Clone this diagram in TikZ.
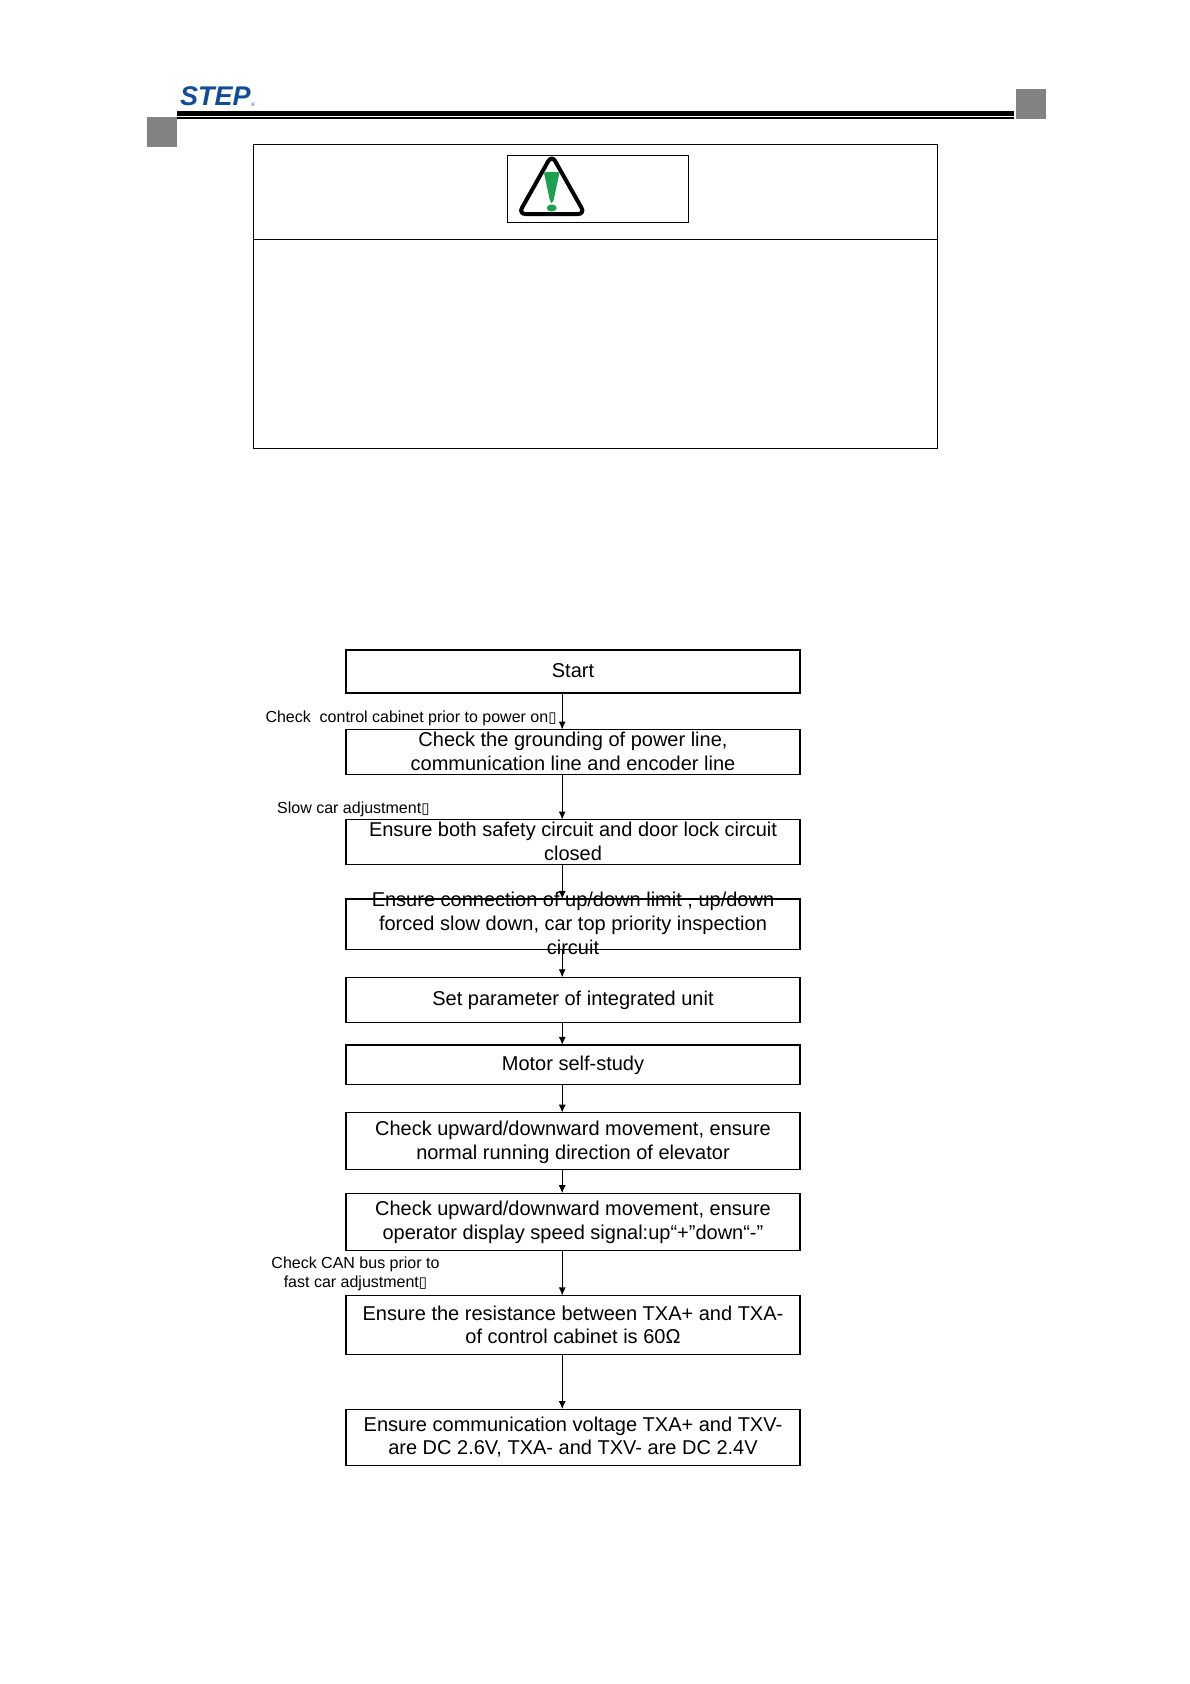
\documentclass[tikz,border=0pt]{standalone}
\usepackage{fontspec}
\setmainfont{Liberation Sans}
\newfontfamily\symbolfont{DejaVu Sans}
\usepackage{xcolor}
\usetikzlibrary{arrows.meta, positioning, shapes.geometric}
\definecolor{logoblue}{HTML}{0F4C9A}
\definecolor{tabgray}{HTML}{828282}
\definecolor{signgreen}{HTML}{1FA04E}
\newcommand{\tofu}{{\symbolfont\fontsize{15}{15}\selectfont\char"25AF}}

\begin{document}
\begin{tikzpicture}[
        x=1pt, y=-1pt,
        panel/.style={rectangle, draw, line width=1pt, inner sep=0pt, outer sep=0pt, minimum width=684.6pt},
        flowbox/.style={rectangle, draw, line width=1.2pt, inner sep=0pt, outer sep=0pt, minimum width=454pt},
        flowtext/.style={align=center, inner sep=0pt, font=\fontsize{20}{23.8}\selectfont},
        steplabel/.style={align=center, inner sep=0pt, font=\fontsize{16}{18.4}\selectfont},
        tabmark/.style={rectangle, fill=tabgray, inner sep=0pt, minimum size=30pt},
        arrow/.style={-{Latex[length=8pt, width=7pt]}, line width=1pt}
    ]
        \useasboundingbox (0,0) rectangle (1190,1684);

        % page header
        \node[anchor=west, inner sep=0pt, text=logoblue, font=\fontsize{27}{27}\selectfont\bfseries\itshape] (logo) at (180,96) {STEP};
        \node[anchor=south west, inner sep=0pt, text=logoblue, font=\fontsize{5}{5}\selectfont] (regmark) at ([yshift=-1pt]logo.south east) {\textregistered};
        \fill (177,111) rectangle (1014,116);
        \fill (177,117) rectangle (1014,119);
        \node[tabmark, anchor=north west] (tableft) at (147,117) {};
        \node[tabmark, anchor=north west] (tabright) at (1016,89) {};

        % warning table
        \node[panel, minimum height=94.5pt, anchor=north west] (warnhead) at (253,144.5) {};
        \node[panel, minimum height=209.4pt, below=0pt of warnhead] (warnbody) {};
        \node[rectangle, draw, line width=1pt, inner sep=0pt, minimum width=181pt, minimum height=67pt, anchor=north west] (warnsign) at (507,155) {};
        \draw[line width=4pt, line join=round, rounded corners=7pt] (551.7,155) -- (585,214) -- (518.5,214) -- cycle;
        \fill[signgreen, rounded corners=2pt] (543.8,172) -- (559.6,172) -- (553,203) -- (550.4,203) -- cycle;
        \fill[signgreen] (551.7,208) ellipse [x radius=5, y radius=3.5];

        % flow chart
        \coordinate (axis) at (562.2,0);
        \node[flowbox, minimum height=43pt, anchor=north west] (start) at (346,650) {};
        \node[flowbox, minimum height=45pt, below=36.5pt of start] (ground) {};
        \node[flowbox, minimum height=45pt, below=45pt of ground] (safety) {};
        \node[flowbox, minimum height=50.4pt, below=34.4pt of safety] (limit) {};
        \node[flowbox, minimum height=45pt, below=28pt of limit] (param) {};
        \node[flowbox, minimum height=39.7pt, below=22.6pt of param] (selfstudy) {};
        \node[flowbox, minimum height=57pt, below=28pt of selfstudy] (direction) {};
        \node[flowbox, minimum height=57pt, below=23.6pt of direction] (display) {};
        \node[flowbox, minimum height=59pt, below=45.2pt of display] (resistance) {};
        \node[flowbox, minimum height=56pt, below=54.7pt of resistance] (voltage) {};

        \draw[arrow] (start.south -| axis) -- (ground.north -| axis);
        \draw[arrow] (ground.south -| axis) -- (safety.north -| axis);
        \draw[arrow] (safety.south -| axis) -- (limit.north -| axis);
        \draw[arrow] (limit.south -| axis) -- (param.north -| axis);
        \draw[arrow] (param.south -| axis) -- (selfstudy.north -| axis);
        \draw[arrow] (selfstudy.south -| axis) -- (direction.north -| axis);
        \draw[arrow] (direction.south -| axis) -- (display.north -| axis);
        \draw[arrow] (display.south -| axis) -- (resistance.north -| axis);
        \draw[arrow] (resistance.south -| axis) -- (voltage.north -| axis);

        \node[flowtext, yshift=1pt] (starttext) at (start) {Start};
        \node[flowtext, yshift=1pt] (groundtext) at (ground) {Check the grounding of power line,\\communication line and encoder line};
        \node[flowtext, yshift=1pt] (safetytext) at (safety) {Ensure both safety circuit and door lock circuit\\closed};
        \node[flowtext, yshift=1pt] (limittext) at (limit) {Ensure connection of up/down limit , up/down\\forced slow down, car top priority inspection\\circuit};
        \node[flowtext, yshift=-1pt] (paramtext) at (param) {Set parameter of integrated unit};
        \node[flowtext, yshift=-1pt] (selfstudytext) at (selfstudy) {Motor self-study};
        \node[flowtext, yshift=-1pt] (directiontext) at (direction) {Check upward/downward movement, ensure\\normal running direction of elevator};
        \node[flowtext, yshift=-1pt] (displaytext) at (display) {Check upward/downward movement, ensure\\operator display speed signal:up“+”down“-”};
        \node[flowtext] (resistancetext) at (resistance) {Ensure the resistance between TXA+ and TXA-\\of control cabinet is 60Ω};
        \node[flowtext] (voltagetext) at (voltage) {Ensure communication voltage TXA+ and TXV-\\are DC 2.6V, TXA- and TXV- are DC 2.4V};

        \node[steplabel, anchor=west] (cabinetlabel) at (265.3,718.5) {Check\ \ control cabinet prior to power on\tofu};
        \node[steplabel, anchor=west] (slowlabel) at (277,809.7) {Slow car adjustment\tofu};
        \node[steplabel] (canlabel) at (355.5,1274) {Check CAN bus prior to\\fast car adjustment\tofu};
    \end{tikzpicture}
\end{document}
